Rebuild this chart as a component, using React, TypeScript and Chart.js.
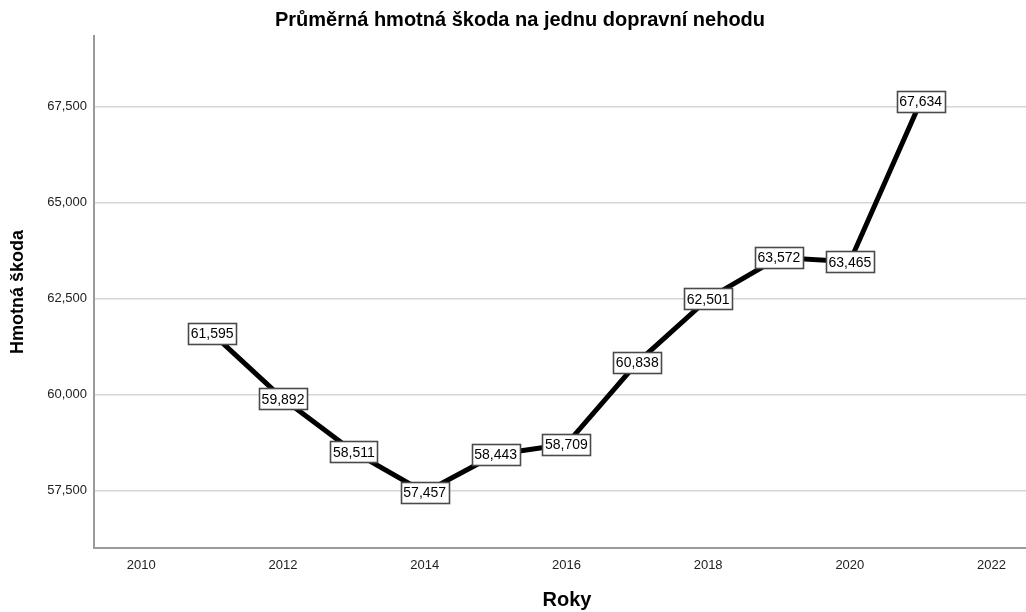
import React, { useEffect, useRef } from "react";
import { Chart, registerables } from "chart.js";

Chart.register(...registerables);

const years = [2011, 2012, 2013, 2014, 2015, 2016, 2017, 2018, 2019, 2020, 2021];
const damage = [61595, 59892, 58511, 57457, 58443, 58709, 60838, 62501, 63572, 63465, 67634];
const xTicks = [2010, 2012, 2014, 2016, 2018, 2020, 2022];
const yTicks = [57500, 60000, 62500, 65000, 67500];

const chartTitle = "Průměrná hmotná škoda na jednu dopravní nehodu";
const xTitle = "Roky";
const yTitle = "Hmotná škoda";

const FONT = "'Liberation Sans', Arial, sans-serif";

const fmt = (v: number) => v.toLocaleString("en-US");

const labelBoxes = {
  id: "labelBoxes",
  afterDatasetsDraw(chart: any) {
    const ctx = chart.ctx;
    const meta = chart.getDatasetMeta(0);
    ctx.save();
    ctx.font = `14px ${FONT}`;
    ctx.textAlign = "center";
    ctx.textBaseline = "middle";
    meta.data.forEach((pt: any, i: number) => {
      const text = fmt(damage[i]);
      const w = Math.round(ctx.measureText(text).width + 5);
      const h = 21;
      const x = Math.round(pt.x - w / 2) + 0.5;
      const y = Math.round(pt.y - h / 2) + 0.5;
      ctx.fillStyle = "#ffffff";
      ctx.fillRect(x, y, w, h);
      ctx.strokeStyle = "#4a4a4a";
      ctx.lineWidth = 1.6;
      ctx.strokeRect(x, y, w, h);
      ctx.fillStyle = "#000000";
      ctx.fillText(text, pt.x, pt.y + 1);
    });
    ctx.restore();
  },
};

export default function App() {
  const ref = useRef<HTMLCanvasElement | null>(null);

  useEffect(() => {
    if (!ref.current) return;
    const chart = new Chart(ref.current, {
      type: "line",
      data: {
        datasets: [
          {
            data: years.map((y, i) => ({ x: y, y: damage[i] })),
            borderColor: "#000000",
            borderWidth: 5,
            pointRadius: 0,
            pointHoverRadius: 0,
            tension: 0,
            fill: false,
          },
        ],
      },
      options: {
        animation: false,
        responsive: false,
        devicePixelRatio: 1,
        layout: { padding: { left: 0, right: 0, top: 0, bottom: 0 } },
        plugins: {
          legend: { display: false },
          tooltip: { enabled: false },
          title: {
            display: true,
            text: chartTitle,
            color: "#000000",
            font: { family: FONT, size: 20, weight: "bold", lineHeight: 1.2 },
            padding: { top: 8, bottom: 4 },
          },
        },
        scales: {
          x: {
            type: "linear",
            min: 2009.332,
            max: 2022.684,
            afterBuildTicks: (scale: any) => {
              scale.ticks = xTicks.map((v) => ({ value: v }));
            },
            afterFit: (scale: any) => {
              scale.height = 64;
            },
            grid: { display: false, drawTicks: false },
            border: { display: true, color: "#9a9a9a", width: 2 },
            ticks: {
              color: "#222222",
              font: { family: FONT, size: 13 },
              padding: 10,
              maxRotation: 0,
              autoSkip: false,
              callback: (v: any) => String(v),
            },
            title: {
              display: true,
              text: xTitle,
              color: "#000000",
              font: { family: FONT, size: 20, weight: "bold", lineHeight: 1.2 },
              padding: { top: 0, bottom: 0 },
            },
          },
          y: {
            type: "linear",
            min: 56008,
            max: 69341,
            afterBuildTicks: (scale: any) => {
              scale.ticks = yTicks.map((v) => ({ value: v }));
            },
            afterFit: (scale: any) => {
              scale.width = 94;
            },
            grid: { display: true, color: "#d6d6d6", lineWidth: 1.5, drawTicks: false },
            border: { display: true, color: "#9a9a9a", width: 2 },
            ticks: {
              color: "#222222",
              font: { family: FONT, size: 13 },
              padding: 7,
              autoSkip: false,
              callback: (v: any) => fmt(Number(v)),
            },
            title: {
              display: true,
              text: yTitle,
              color: "#000000",
              font: { family: FONT, size: 18, weight: "bold", lineHeight: 1.2 },
              padding: { top: 7, bottom: 0 },
            },
          },
        },
      },
      plugins: [labelBoxes],
    });
    return () => chart.destroy();
  }, []);

  return (
    <div
      style={{
        position: "absolute",
        left: 0,
        top: 0,
        width: 1026,
        height: 612,
        overflow: "hidden",
        background: "#fff",
      }}
    >
      <canvas ref={ref} width={1040} height={612} style={{ display: "block" }} />
    </div>
  );
}
